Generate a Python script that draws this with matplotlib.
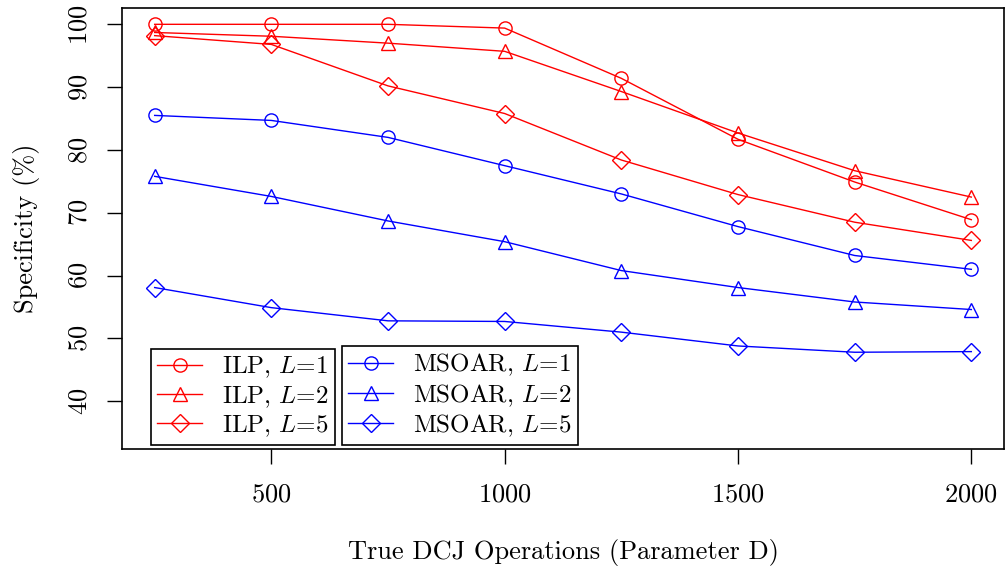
import matplotlib
matplotlib.use("Agg")
import matplotlib.pyplot as plt

plt.rcParams['font.family'] = 'serif'
plt.rcParams['font.serif'] = ['cmr10', 'DejaVu Serif']
plt.rcParams['mathtext.fontset'] = 'cm'
plt.rcParams['axes.formatter.use_mathtext'] = True

# true DCJ operations (parameter D)
D = [250, 500, 750, 1000, 1250, 1500, 1750, 2000]

ilp_l1 = [100.0, 100.0, 100.0, 99.4, 91.4, 81.7, 74.9, 68.9]
ilp_l2 = [98.7, 98.1, 97.0, 95.7, 89.3, 82.7, 76.7, 72.5]
ilp_l5 = [98.2, 96.8, 90.2, 85.8, 78.4, 72.9, 68.5, 65.6]
msoar_l1 = [85.5, 84.7, 82.0, 77.5, 73.0, 67.8, 63.2, 61.0]
msoar_l2 = [75.8, 72.6, 68.7, 65.4, 60.8, 58.1, 55.8, 54.6]
msoar_l5 = [58.1, 54.9, 52.8, 52.7, 51.0, 48.8, 47.8, 47.9]

ilp_labels = ["ILP, $L$=1", "ILP, $L$=2", "ILP, $L$=5"]
msoar_labels = ["MSOAR, $L$=1", "MSOAR, $L$=2", "MSOAR, $L$=5"]
yticks = [40, 50, 60, 70, 80, 90, 100]
xticks = [500, 1000, 1500, 2000]

FS = 19

fig = plt.figure(figsize=(10.05, 5.70), dpi=100)
ax = fig.add_axes([0.1214, 0.2123, 0.8776, 0.7737])

mk = dict(markersize=9.5, markerfacecolor='none', markeredgewidth=1.0, linewidth=1.0)
h1 = []
h1 += ax.plot(D, ilp_l1, color='red', marker='o', **mk)
h1 += ax.plot(D, ilp_l2, color='red', marker='^', **dict(mk, markersize=10))
h1 += ax.plot(D, ilp_l5, color='red', marker='D', **dict(mk, markersize=9))
h2 = []
h2 += ax.plot(D, msoar_l1, color='blue', marker='o', **mk)
h2 += ax.plot(D, msoar_l2, color='blue', marker='^', **dict(mk, markersize=10))
h2 += ax.plot(D, msoar_l5, color='blue', marker='D', **dict(mk, markersize=9))

ax.set_xlim(180, 2070)
ax.set_ylim(32.4, 102.6)
ax.set_xticks(xticks)
ax.set_yticks(yticks)
ax.tick_params(direction='out', length=11, width=1, labelsize=FS)
ax.tick_params(axis='x', pad=13)
ax.tick_params(axis='y', pad=11)
for lab in ax.get_yticklabels():
    lab.set_rotation(90)
    lab.set_va('center')
for s in ax.spines.values():
    s.set_linewidth(1.2)

ax.set_xlabel("True DCJ Operations (Parameter D)", fontsize=FS, labelpad=24)
ax.set_ylabel("Specificity (%)", fontsize=FS, labelpad=20)

leg_kw = dict(loc='lower left', fontsize=18, fancybox=False, edgecolor='black',
              framealpha=1, borderaxespad=0, handlelength=1.8, handletextpad=0.8,
              labelspacing=0.15, borderpad=0.25)
leg1 = ax.legend(h1, ilp_labels, bbox_to_anchor=(0.033, 0.009), **leg_kw)
leg1.get_frame().set_linewidth(1.2)
ax.add_artist(leg1)
leg2 = ax.legend(h2, msoar_labels, bbox_to_anchor=(0.2494, 0.009), **leg_kw)
leg2.get_frame().set_linewidth(1.2)

fig.savefig("out.png", dpi=100)
